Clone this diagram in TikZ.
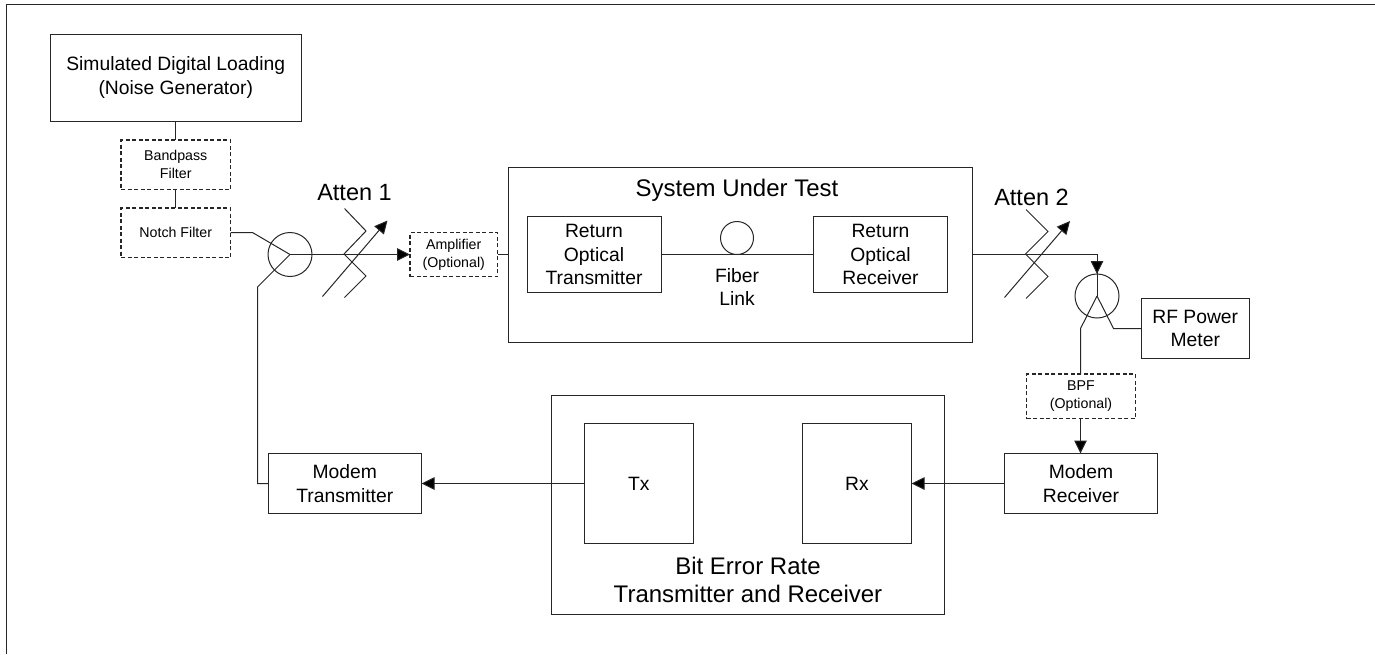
\documentclass[tikz,border=0pt]{standalone}
\usepackage{fontspec}
\setmainfont{Liberation Sans}
\usetikzlibrary{arrows.meta}
\definecolor{ln}{gray}{0.15}
\tikzset{
  box/.style={draw=ln,line width=1pt,align=center,inner sep=0pt,outer sep=0pt,anchor=north west,text=black,font=\fontsize{19.3}{23.3}\selectfont},
  dbox/.style={box,dash pattern=on 4pt off 2.5pt,line width=1.5pt,font=\fontsize{14.2}{17.8}\selectfont},
  lab/.style={align=center,inner sep=0pt,text=black,font=\fontsize{19.3}{23}\selectfont},
  biglab/.style={lab,font=\fontsize{23.5}{28}\selectfont},
  titlelab/.style={lab,font=\fontsize{24}{28.5}\selectfont},
  tip/.style={-{Triangle[length=13pt,width=12.5pt,fill=black]}},
  circ/.style={draw=ln,circle,line width=1pt,inner sep=0pt,outer sep=0pt,minimum size=44pt},
}
\newcommand{\boxat}[7][box]{\node[#1,minimum width=#5pt-#3pt,minimum height=#6pt-#4pt] (#2) at (#3,#4) {#7};}
\begin{document}
\begin{tikzpicture}[x=1pt,y=-1pt,line width=1pt,color=ln]
\useasboundingbox (0,0) rectangle (1375,654);
\draw (6.5,654) -- (6.5,4) -- (1375,4);
\boxat{gen}{50}{34}{301.5}{121}{\raisebox{-2pt}{Simulated Digital Loading}\\\raisebox{-2pt}{(Noise Generator)}}
\boxat[dbox]{bp}{121}{140}{230.5}{189.5}{Bandpass\\Filter}
\boxat[dbox]{notch}{121}{208}{230.5}{257.5}{Notch Filter}
\boxat[dbox]{amp}{410}{232.5}{497.5}{276.5}{\raisebox{-1pt}{Amplifier}\\\raisebox{-1pt}{(Optional)}}
\boxat{sut}{508}{167}{972}{342}{}
\boxat{rtx}{527}{216.5}{661}{292.5}{Return\\Optical\\Transmitter}
\boxat{rrx}{813.5}{216.5}{947.5}{292.5}{Return\\Optical\\Receiver}
\boxat{rf}{1141}{298.5}{1249.5}{358}{RF Power\\Meter}
\boxat[dbox]{bpf}{1026.5}{374}{1135.5}{418.5}{\raisebox{-1pt}{BPF}\\\raisebox{-1pt}{(Optional)}}
\boxat{mrx}{1004.5}{453.5}{1157.5}{513.5}{Modem\\Receiver}
\boxat{mtx}{268}{453.5}{421.5}{513.5}{Modem\\Transmitter}
\boxat{ber}{551.5}{395.5}{944.5}{614}{}
\boxat{tx}{584}{423.5}{693.5}{543.5}{Tx}
\boxat{rx}{802.5}{423.5}{911.5}{543.5}{Rx}
\node[circ] (c1) at (290,254.5) {};
\node[circ] (c2) at (1097,296) {};
\node[circ,minimum size=33pt] (fib) at (737,238) {};
\node[titlelab] (sutl) at (737,190.5) {System Under Test};
\node[lab] (fibl) at (737,287) {Fiber\\Link};
\node[titlelab] (berl) at (748,580) {Bit Error Rate\\Transmitter and Receiver};
\node[biglab] (a1) at (354.5,193) {Atten 1};
\node[biglab] (a2) at (1031.5,197) {Atten 2};
\coordinate (j1) at (290,254.5);
\coordinate (j2) at (1097,296);
\draw (gen.south -| bp.north) -- (bp.north);
\draw (bp.south) -- (notch.north);
\draw (rtx.east |- 0,254.5) -- (rrx.west |- 0,254.5);
\draw (notch.east |- 0,232.5) -- (252.5,232.5) -- (j1);
\draw[tip] (j1) -- (amp.west);
\draw (amp.east) -- (sut.west |- amp.east);
\draw (j1) -- (257.5,287) -- (257.5,483.5) -- (mtx.west);
\draw[tip] (tx.west |- mtx.east) -- (mtx.east);
\draw[tip] (mrx.west) -- (rx.east |- mrx.west);
\draw (sut.east |- 0,254.5) -- (1097,254.5) -- (j2);
\draw[tip] (1097,254.5) -- (c2.north);
\draw (j2) -- (1080.5,328.5) -- (1080.5,374);
\draw (j2) -- (1113.5,328.5) -- (rf.west |- 0,328.5);
\draw[tip] (1080.5,418.5) -- (1080.5,453.5);
% attenuators
\draw (344.5,208.5) -- (366,231) -- (344,254) -- (366,276) -- (344.5,297.5);
\draw[tip] (322.5,296.5) -- (387.5,220.5);
\draw (1026,209.5) -- (1048,231.5) -- (1025.5,254) -- (1048,276.5) -- (1026,298.5);
\draw[tip] (1004.5,297.5) -- (1070,221);
\end{tikzpicture}
\end{document}
